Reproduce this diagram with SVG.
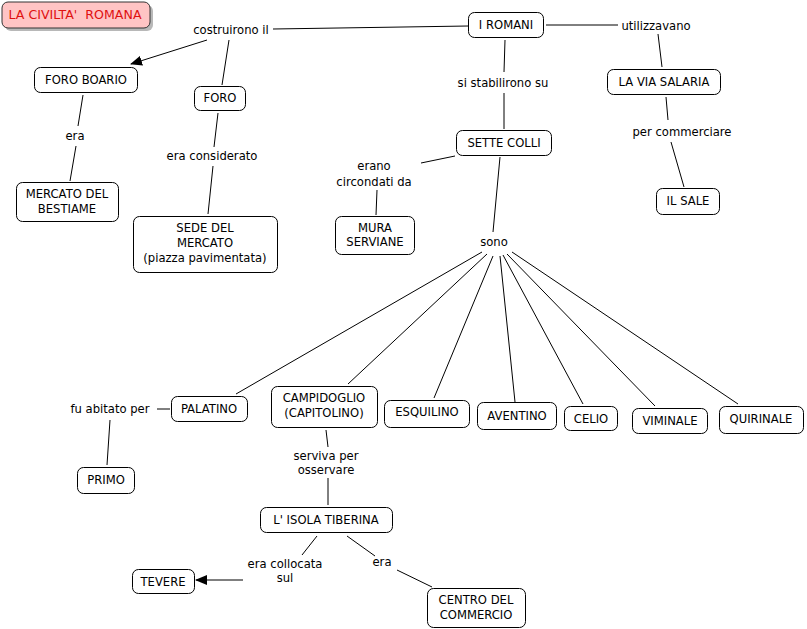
<svg xmlns="http://www.w3.org/2000/svg" width="807" height="629" viewBox="0 0 807 629">
<defs>
<marker id="arr" markerWidth="12" markerHeight="10" refX="11" refY="5" orient="auto" markerUnits="userSpaceOnUse">
<path d="M0,0 L12,5 L0,10 Z" fill="#000"/>
</marker>
</defs>
<style>
text{font-family:"DejaVu Sans",Verdana,sans-serif;font-size:11.6px;fill:#000;text-anchor:middle}
.n rect{fill:#fff;stroke:#000;stroke-width:1}
.c line{stroke:#000;stroke-width:1}
.t{fill:#e01010;font-size:12.6px;white-space:pre}
</style>
<rect width="807" height="629" fill="#fff"/>
<g id="title">
<rect x="5" y="5" width="148" height="26" rx="6" fill="#b8b8b8"/>
<rect x="2" y="2" width="148" height="26" rx="6" fill="#ffc4c4" stroke="#333"/>
<text class="t" x="75" y="19" xml:space="preserve">LA CIVILTA'  ROMANA</text>
</g>
<g class="c" id="connectors">
<line x1="468" y1="26" x2="273" y2="29"/>
<line x1="207" y1="40" x2="131" y2="64" marker-end="url(#arr)"/>
<line x1="229" y1="40" x2="222" y2="85"/>
<line x1="83" y1="95" x2="78" y2="126"/>
<line x1="76" y1="146" x2="70" y2="181"/>
<line x1="218" y1="113" x2="214" y2="147"/>
<line x1="213" y1="166" x2="208" y2="214"/>
<line x1="505" y1="40" x2="504" y2="72"/>
<line x1="504" y1="93" x2="504" y2="129"/>
<line x1="546" y1="25" x2="618" y2="25"/>
<line x1="658" y1="34" x2="662" y2="67"/>
<line x1="666" y1="97" x2="668" y2="120"/>
<line x1="671" y1="142" x2="684" y2="187"/>
<line x1="455" y1="156" x2="421" y2="163"/>
<line x1="377" y1="190" x2="376" y2="215"/>
<line x1="500" y1="157" x2="493" y2="232"/>
<line x1="482" y1="252" x2="236" y2="394"/>
<line x1="487" y1="254" x2="348" y2="384"/>
<line x1="493" y1="256" x2="434" y2="398"/>
<line x1="500" y1="256" x2="515" y2="402"/>
<line x1="503" y1="255" x2="583" y2="404"/>
<line x1="507" y1="254" x2="655" y2="406"/>
<line x1="512" y1="252" x2="738" y2="404"/>
<line x1="170" y1="409" x2="157" y2="409"/>
<line x1="110" y1="420" x2="107" y2="465"/>
<line x1="326" y1="430" x2="328" y2="447"/>
<line x1="328" y1="478" x2="328" y2="505"/>
<line x1="317" y1="536" x2="302" y2="555"/>
<line x1="243" y1="580" x2="196" y2="580" marker-end="url(#arr)"/>
<line x1="347" y1="536" x2="375" y2="556"/>
<line x1="397" y1="570" x2="432" y2="587"/>
</g>
<g id="labels">
<text x="231" y="34">costruirono il</text>
<text x="656" y="30">utilizzavano</text>
<text x="503" y="87">si stabilirono su</text>
<text x="682" y="136">per commerciare</text>
<text x="75" y="140">era</text>
<text x="212" y="160">era considerato</text>
<text x="374" y="170">erano</text>
<text x="374" y="186">circondati da</text>
<text x="494" y="246">sono</text>
<text x="110" y="413">fu abitato per</text>
<text x="326" y="460">serviva per</text>
<text x="326" y="474">osservare</text>
<text x="285" y="568">era collocata</text>
<text x="285" y="582">sul</text>
<text x="382" y="566">era</text>
</g>
<g class="n" id="n-romani"><rect x="468.5" y="12.5" width="75" height="25" rx="6"/><text x="506" y="29">I ROMANI</text></g>
<g class="n" id="n-salaria"><rect x="607.5" y="69.5" width="113" height="25" rx="6"/><text x="664" y="86">LA VIA SALARIA</text></g>
<g class="n" id="n-foroboario"><rect x="34.5" y="67.5" width="103" height="25" rx="6"/><text x="86" y="84">FORO BOARIO</text></g>
<g class="n" id="n-foro"><rect x="194.5" y="86.5" width="51" height="24" rx="6"/><text x="220" y="102">FORO</text></g>
<g class="n" id="n-bestiame"><rect x="16.5" y="182.5" width="102" height="39" rx="6"/><text x="67" y="198">MERCATO DEL</text><text x="67" y="213">BESTIAME</text></g>
<g class="n" id="n-sede"><rect x="133.5" y="216.5" width="144" height="56" rx="6"/><text x="205" y="232">SEDE DEL</text><text x="205" y="247">MERCATO</text><text x="205" y="262">(piazza pavimentata)</text></g>
<g class="n" id="n-mura"><rect x="335.5" y="216.5" width="79" height="38" rx="6"/><text x="375" y="232">MURA</text><text x="375" y="246">SERVIANE</text></g>
<g class="n" id="n-sette"><rect x="456.5" y="130.5" width="95" height="25" rx="6"/><text x="504" y="147">SETTE COLLI</text></g>
<g class="n" id="n-sale"><rect x="656.5" y="188.5" width="63" height="26" rx="6"/><text x="688" y="205">IL SALE</text></g>
<g class="n" id="n-palatino"><rect x="171.5" y="396.5" width="76" height="25" rx="6"/><text x="209" y="413">PALATINO</text></g>
<g class="n" id="n-campidoglio"><rect x="271.5" y="386.5" width="106" height="41" rx="6"/><text x="324" y="402">CAMPIDOGLIO</text><text x="324" y="417">(CAPITOLINO)</text></g>
<g class="n" id="n-esquilino"><rect x="384.5" y="400.5" width="85" height="27" rx="6"/><text x="427" y="416">ESQUILINO</text></g>
<g class="n" id="n-aventino"><rect x="477.5" y="402.5" width="79" height="27" rx="6"/><text x="517" y="420">AVENTINO</text></g>
<g class="n" id="n-celio"><rect x="564.5" y="406.5" width="53" height="24" rx="6"/><text x="591" y="423">CELIO</text></g>
<g class="n" id="n-viminale"><rect x="632.5" y="408.5" width="75" height="25" rx="6"/><text x="670" y="425">VIMINALE</text></g>
<g class="n" id="n-quirinale"><rect x="719.5" y="406.5" width="84" height="27" rx="6"/><text x="761" y="423">QUIRINALE</text></g>
<g class="n" id="n-primo"><rect x="77.5" y="467.5" width="57" height="26" rx="6"/><text x="106" y="484">PRIMO</text></g>
<g class="n" id="n-isola"><rect x="260.5" y="507.5" width="132" height="25" rx="6"/><text x="326" y="524">L' ISOLA TIBERINA</text></g>
<g class="n" id="n-tevere"><rect x="132.5" y="569.5" width="62" height="24" rx="6"/><text x="163" y="586">TEVERE</text></g>
<g class="n" id="n-centro"><rect x="427.5" y="588.5" width="98" height="39" rx="6"/><text x="476" y="604">CENTRO DEL</text><text x="476" y="619">COMMERCIO</text></g>
</svg>
